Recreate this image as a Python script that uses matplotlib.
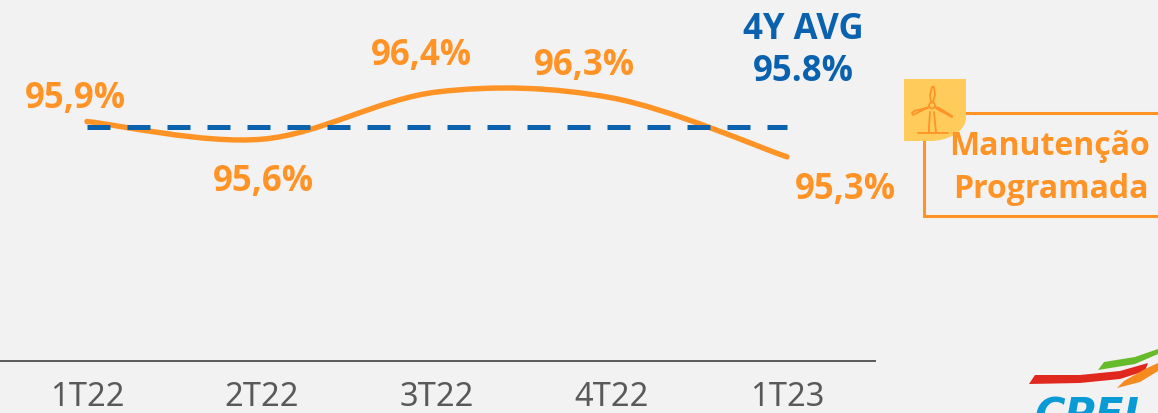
import numpy as np
import matplotlib
matplotlib.use('Agg')
import matplotlib.pyplot as plt
from matplotlib.path import Path
from matplotlib.patches import PathPatch, Rectangle, Circle

quarters = ['1T22', '2T22', '3T22', '4T22', '1T23']
values = [95.9, 95.6, 96.4, 96.3, 95.3]
value_labels = ['95,9%', '95,6%', '96,4%', '96,3%', '95,3%']
avg_value = 95.8
avg_label = '4Y AVG\n95.8%'

ORANGE = '#FF9326'
BLUE = '#0A62AE'
BG = '#F2F2F2'
W, H = 1158, 414


def smooth_path(xs, ys):
    # same kind of smoothing as an Excel line: Catmull-Rom as bezier
    verts = [(xs[0], ys[0])]
    codes = [Path.MOVETO]
    n = len(xs)
    for i in range(n - 1):
        i0 = max(i - 1, 0)
        i3 = min(i + 2, n - 1)
        c1 = (xs[i] + (xs[i + 1] - xs[i0]) / 6, ys[i] + (ys[i + 1] - ys[i0]) / 6)
        c2 = (xs[i + 1] - (xs[i3] - xs[i]) / 6, ys[i + 1] - (ys[i3] - ys[i]) / 6)
        verts += [c1, c2, (xs[i + 1], ys[i + 1])]
        codes += [Path.CURVE4] * 3
    return Path(verts, codes)


fig = plt.figure(figsize=(W / 100, H / 100), dpi=100, facecolor=BG)

# main chart, axis line sits at y=362 px and ends at x=875 px
ax = fig.add_axes([0, (H - 362) / H, 875 / W, 362 / H], facecolor=BG)
x = np.arange(len(quarters))
ax.set_xlim(-87 / 175, (875 - 87) / 175)
ax.set_ylim(95.9 - (362 - 122.5) / 59, 95.9 + 122.5 / 59)

ax.add_patch(PathPatch(smooth_path(x, values), fc='none', ec=ORANGE, lw=3.9,
                       capstyle='round', zorder=3))
ax.plot(x, [avg_value] * len(x), color=BLUE, lw=3.6, dashes=(4.6, 3.4), zorder=4)

label_font = {'family': 'Open Sans', 'weight': 'bold', 'color': ORANGE, 'fontsize': 25}
# pixel offsets of each label from its point (right, up)
offsets = [(-12, 24), (1, -42), (-16, 37), (-28, 33), (58, -32)]
for xi, v, lab, off in zip(x, values, value_labels, offsets):
    ax.annotate(lab, (xi, v), xytext=(off[0] * 0.72, off[1] * 0.72),
                textcoords='offset points', ha='center', va='center', **label_font)

ax.annotate(avg_label, (x[-1], avg_value), xytext=(12, 56), textcoords='offset points',
            ha='center', va='center', family='Open Sans', weight='bold',
            color=BLUE, fontsize=25, linespacing=1.22)

ax.set_xticks(x)
ax.set_xticklabels(quarters, family='Noto Sans', fontsize=23.5, color='#595959')
ax.tick_params(axis='x', length=0, pad=14)
ax.set_yticks([])
for s in ['top', 'left', 'right']:
    ax.spines[s].set_visible(False)
ax.spines['bottom'].set_color('#595959')
ax.spines['bottom'].set_linewidth(1.4)

# overlay in pixel coordinates for the callout box, icon and logo
ov = fig.add_axes([0, 0, 1, 1], facecolor='none')
ov.set_xlim(0, W)
ov.set_ylim(H, 0)
ov.axis('off')

ov.add_patch(Rectangle((924, 114), 260, 103, fc='none', ec=ORANGE, lw=2.2))

# yellow icon tile, bottom right corner rounded
tile = Path([(904, 80), (966, 80), (966, 118), (966, 134), (946, 142), (930, 142),
             (904, 142), (904, 80)],
            [Path.MOVETO, Path.LINETO, Path.LINETO, Path.CURVE4, Path.CURVE4, Path.CURVE4,
             Path.LINETO, Path.CLOSEPOLY])
ov.add_patch(PathPatch(tile, fc='#FFCC5C', ec='none', zorder=2))

# wind turbine
ic = dict(color=ORANGE, lw=1.3, zorder=3, solid_capstyle='round')
ov.add_patch(Circle((932, 106.5), 3, fc='none', ec=ORANGE, lw=1.3, zorder=3))
ov.plot([931, 933, 935, 934, 932, 930, 931], [103, 103, 96, 88, 88, 96, 103], **ic)
ov.plot([929, 925, 913, 912, 914, 926, 929], [108, 110, 116, 114, 112, 109, 108], **ic)
ov.plot([935, 939, 952, 952, 950, 937, 935], [108, 109, 117, 118, 117, 110, 108], **ic)
ov.plot([930, 929, 929], [113, 128, 133], **ic)
ov.plot([934, 936], [113, 133], **ic)
ov.plot([918, 948], [134, 134], **ic)

ov.text(1050, 147, 'Manutenção', family='Open Sans', weight='bold', color=ORANGE,
        fontsize=23, ha='center', va='center', zorder=4)
ov.text(1051, 190, 'Programada', family='Open Sans', weight='bold', color=ORANGE,
        fontsize=23, ha='center', va='center', zorder=4)

# logo swooshes and cut-off name
ov.fill([1029, 1035, 1080, 1120, 1148, 1145, 1120, 1080],
        [385, 376, 376, 372, 364, 372, 380, 384], color='#E0281F', lw=0, zorder=3)
ov.fill([1098, 1104, 1135, 1158, 1158, 1135],
        [371, 363, 358, 350, 355, 365], color='#66BB2A', lw=0, zorder=3)
ov.fill([1117, 1124, 1145, 1158, 1158, 1140],
        [389, 382, 370, 364, 372, 383], color='#F58A1F', lw=0, zorder=3)
ov.text(1034, 396, 'CPFL', family='DejaVu Sans', weight='bold', style='italic',
        color='#0A9BD6', fontsize=30, ha='left', va='top', zorder=3, clip_on=True)

fig.savefig('out.png', dpi=100, facecolor=BG)
